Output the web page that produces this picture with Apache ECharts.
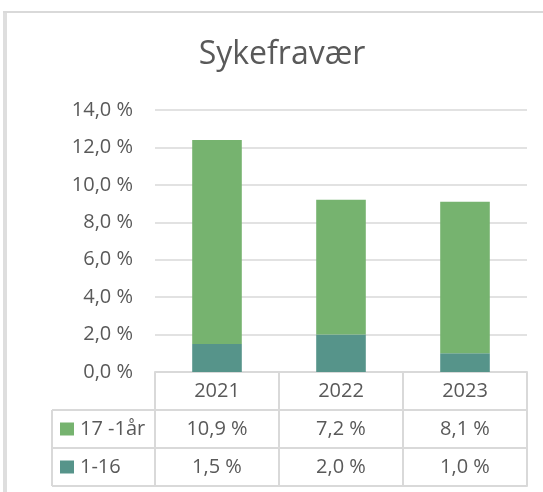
<!DOCTYPE html>
<html>
<head>
<meta charset="utf-8">
<script src="https://cdn.jsdelivr.net/npm/echarts@6/dist/echarts.min.js"></script>
<style>
  html, body { margin: 0; padding: 0; background: #ffffff; }
  #chart { width: 543px; height: 492px; }
</style>
</head>
<body>
<div id="chart"></div>
<script>
// Sick leave per year, split by absence length
const years = ['2021', '2022', '2023'];
const shortLeave = [1.5, 2.0, 1.0];   // 1-16 days
const longLeave = [10.9, 7.2, 8.1];   // 17 days - 1 year
const seriesNames = ['17 -1år', '1-16'];
const chartTitle = 'Sykefravær';
const yMin = 0, yMax = 14, yStep = 2;

// Layout
const FONT = "'Open Sans', sans-serif";
const FS = 20;
const TEXT = '#595959';
const LINE = '#D9D9D9';
const GRID = { left: 155, right: 16, top: 110, bottom: 120 };
const ROW = 38;            // data-table row height
const TABLE_LEFT = 52;     // left edge of the row-label column

const pct = v => v.toFixed(1).replace('.', ',') + ' %';

const chart = echarts.init(document.getElementById('chart'), null, { renderer: 'canvas' });

// One category axis per table row: header (years), then a row per series
function tableAxis(offset, values, showTicks, showLabels) {
  return {
    type: 'category',
    data: years,
    position: 'bottom',
    offset: offset,
    boundaryGap: true,
    axisLine: { show: true, lineStyle: { color: LINE, width: 2 } },
    axisTick: { show: showTicks, length: ROW, interval: 0, lineStyle: { color: LINE, width: 2 } },
    axisLabel: {
      show: showLabels,
      interval: 0,
      margin: ROW / 2,
      verticalAlign: 'middle',
      color: TEXT,
      fontFamily: FONT,
      fontSize: FS,
      formatter: (v, i) => values ? pct(values[i]) : v
    },
    splitLine: { show: false }
  };
}

const H = 492;
const tableTop = H - GRID.bottom;

chart.setOption({
  animation: false,
  backgroundColor: '#ffffff',
  title: {
    text: chartTitle,
    left: 282,
    top: 39,
    padding: 0,
    textAlign: 'center',
    textStyle: { fontFamily: FONT, fontSize: 32, fontWeight: 'normal', color: TEXT }
  },
  grid: { left: GRID.left, right: GRID.right, top: GRID.top, bottom: GRID.bottom, containLabel: false },
  legend: {
    data: seriesNames,
    orient: 'vertical',
    left: 60,
    top: 419,
    padding: 0,
    itemWidth: 14,
    itemHeight: 13,
    itemGap: 18,
    icon: 'rect',
    selectedMode: false,
    textStyle: { fontFamily: FONT, fontSize: FS, color: TEXT, lineHeight: 20, padding: [0, 0, 0, 1] }
  },
  xAxis: [
    tableAxis(0, null, true, true),
    tableAxis(ROW, longLeave, true, true),
    tableAxis(ROW * 2, shortLeave, true, true),
    tableAxis(ROW * 3, null, false, false)
  ],
  yAxis: {
    type: 'value',
    min: yMin,
    max: yMax,
    interval: yStep,
    axisLine: { show: false },
    axisTick: { show: false },
    axisLabel: { margin: 22, color: TEXT, fontFamily: FONT, fontSize: FS, formatter: v => pct(v) },
    splitLine: { lineStyle: { color: LINE, width: 1.5 } }
  },
  series: [
    {
      name: '1-16',
      type: 'bar',
      stack: 'total',
      barWidth: '40%',
      data: shortLeave,
      itemStyle: { color: '#56948A' }
    },
    {
      name: '17 -1år',
      type: 'bar',
      stack: 'total',
      barWidth: '40%',
      data: longLeave,
      itemStyle: { color: '#76B36F' }
    }
  ],
  graphic: [
    // chart frame
    { type: 'rect', shape: { x: 3, y: 11, width: 4, height: H - 11 }, style: { fill: '#DEDEDE' }, silent: true },
    { type: 'line', shape: { x1: 3, y1: 12, x2: 543, y2: 12 }, style: { stroke: LINE, lineWidth: 2 }, silent: true },
    // row-label column of the data table
    { type: 'line', shape: { x1: TABLE_LEFT, y1: tableTop + ROW, x2: GRID.left, y2: tableTop + ROW }, style: { stroke: LINE, lineWidth: 2 }, silent: true },
    { type: 'line', shape: { x1: TABLE_LEFT, y1: tableTop + ROW * 2, x2: GRID.left, y2: tableTop + ROW * 2 }, style: { stroke: LINE, lineWidth: 2 }, silent: true },
    { type: 'line', shape: { x1: TABLE_LEFT, y1: tableTop + ROW * 3, x2: GRID.left, y2: tableTop + ROW * 3 }, style: { stroke: LINE, lineWidth: 2 }, silent: true },
    { type: 'line', shape: { x1: TABLE_LEFT, y1: tableTop + ROW, x2: TABLE_LEFT, y2: tableTop + ROW * 3 }, style: { stroke: LINE, lineWidth: 2 }, silent: true }
  ]
});
</script>
</body>
</html>
